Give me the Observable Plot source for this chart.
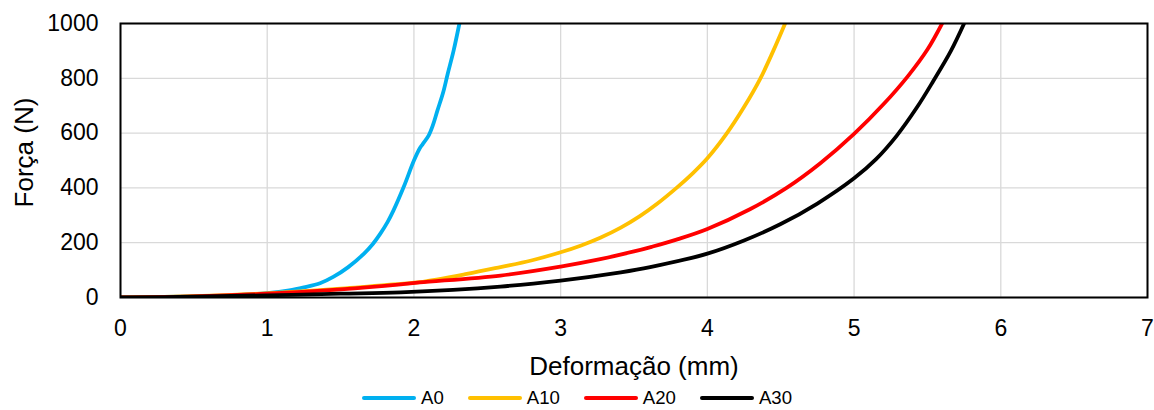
<!DOCTYPE html>
<html>
<head>
<meta charset="utf-8">
<script src="https://cdn.jsdelivr.net/npm/d3@7"></script>
<script src="https://cdn.jsdelivr.net/npm/@observablehq/plot@0.6"></script>
<style>
  html, body { margin: 0; padding: 0; background: #fff; }
  #chart { width: 1154px; font-family: "Liberation Sans", Arial, sans-serif; }
  #legend { display: flex; justify-content: center; align-items: center; height: 24px; margin-top: 6px;
            font-family: "Liberation Sans", Arial, sans-serif; font-size: 18.6px; color: #000; }
  .item { display: flex; align-items: center; margin: 0 12px; }
  .sw { display: inline-block; width: 54px; height: 4px; border-radius: 2px; margin-right: 5px; }
</style>
</head>
<body>
<div id="chart"></div>
<script>
// Series names and colours
const seriesNames = ["A0", "A10", "A20", "A30"];
const seriesColors = ["#00B0F0", "#FFC000", "#FF0000", "#000000"];

// Deformação (mm) / Força (N) for each series
const a0X = [0, 0.3, 0.6, 0.8, 1.0, 1.15, 1.25, 1.36, 1.45, 1.55, 1.66, 1.72, 1.77, 1.82, 1.86, 1.93, 2.0, 2.04, 2.06, 2.10, 2.13, 2.16, 2.20, 2.23, 2.27, 2.31];
const a0Y = [0, 2, 5, 9, 16, 26, 37, 52, 75, 110, 160, 195, 232, 275, 317, 403, 500, 545, 560, 591, 630, 682, 750, 816, 900, 1000];

const a10X = [0, 0.5, 1.0, 1.5, 1.91, 2.04, 2.36, 2.59, 2.8, 3.0, 3.14, 3.27, 3.41, 3.54, 3.66, 3.79, 3.9, 4.0, 4.13, 4.25, 4.36, 4.45, 4.53];
const a10Y = [0, 5, 15, 32, 50, 56, 86, 111, 135, 165, 190, 218, 255, 297, 343, 400, 453, 508, 597, 695, 798, 901, 1000];

const a20X = [0, 0.5, 1.0, 1.5, 1.91, 2.04, 2.59, 3.0, 3.27, 3.5, 3.62, 3.8, 4.0, 4.29, 4.54, 4.77, 5.0, 5.2, 5.37, 5.50, 5.60];
const a20Y = [0, 4, 14, 30, 48, 55, 80, 113, 140, 168, 185, 213, 250, 322, 400, 490, 597, 705, 810, 905, 1000];

const a30X = [0, 0.5, 1.0, 1.5, 1.91, 2.59, 3.0, 3.41, 3.61, 4.0, 4.25, 4.5, 4.75, 5.0, 5.15, 5.29, 5.43, 5.54, 5.66, 5.75];
const a30Y = [0, 3, 8, 14, 19, 40, 62, 92, 111, 160, 208, 268, 343, 435, 505, 590, 695, 790, 900, 1000];

// Axis ticks
const xTicks = [0, 1, 2, 3, 4, 5, 6, 7];
const yTicks = [0, 200, 400, 600, 800, 1000];

const xs = [a0X, a10X, a20X, a30X];
const ys = [a0Y, a10Y, a20Y, a30Y];
const data = seriesNames.flatMap((s, i) => xs[i].map((x, j) => ({series: s, x, y: ys[i][j]})));

const chart = Plot.plot({
  width: 1154,
  height: 380,
  marginLeft: 120,
  marginRight: 7,
  marginTop: 23,
  marginBottom: 83,
  style: {fontFamily: "Liberation Sans, Arial, sans-serif", fontSize: "23px", color: "#000", background: "#fff"},
  x: {domain: [0, 7], ticks: xTicks, label: null},
  y: {domain: [0, 1000], ticks: yTicks, label: null},
  color: {domain: seriesNames, range: seriesColors},
  marks: [
    Plot.gridX(xTicks, {stroke: "#d9d9d9", strokeOpacity: 1, strokeWidth: 1.3}),
    Plot.gridY(yTicks, {stroke: "#d9d9d9", strokeOpacity: 1, strokeWidth: 1.3}),
    Plot.axisX(xTicks, {tickSize: 0, tickPadding: 22, fontSize: 23, label: null, tickFormat: d => String(d)}),
    Plot.axisY(yTicks, {tickSize: 0, tickPadding: 22, fontSize: 23, label: null, tickFormat: d => String(d)}),
    Plot.line(data, {x: "x", y: "y", z: "series", stroke: "series", strokeWidth: 3.8, curve: "catmull-rom", clip: true}),
    Plot.frame({stroke: "#000", strokeWidth: 2}),
    Plot.text(["Deformação (mm)"], {frameAnchor: "bottom", dy: 69, lineAnchor: "middle", textAnchor: "middle", fontSize: 26, fill: "#000"}),
    Plot.text(["Força (N)"], {frameAnchor: "left", dx: -96, dy: -8, rotate: -90, textAnchor: "middle", lineAnchor: "middle", fontSize: 26, fill: "#000"})
  ]
});
document.getElementById("chart").appendChild(chart);

const legend = document.createElement("div");
legend.id = "legend";
seriesNames.forEach((s, i) => {
  const item = document.createElement("div");
  item.className = "item";
  const sw = document.createElement("span");
  sw.className = "sw";
  sw.style.background = seriesColors[i];
  const t = document.createElement("span");
  t.textContent = s;
  item.appendChild(sw);
  item.appendChild(t);
  legend.appendChild(item);
});
document.getElementById("chart").appendChild(legend);
</script>
</body>
</html>
